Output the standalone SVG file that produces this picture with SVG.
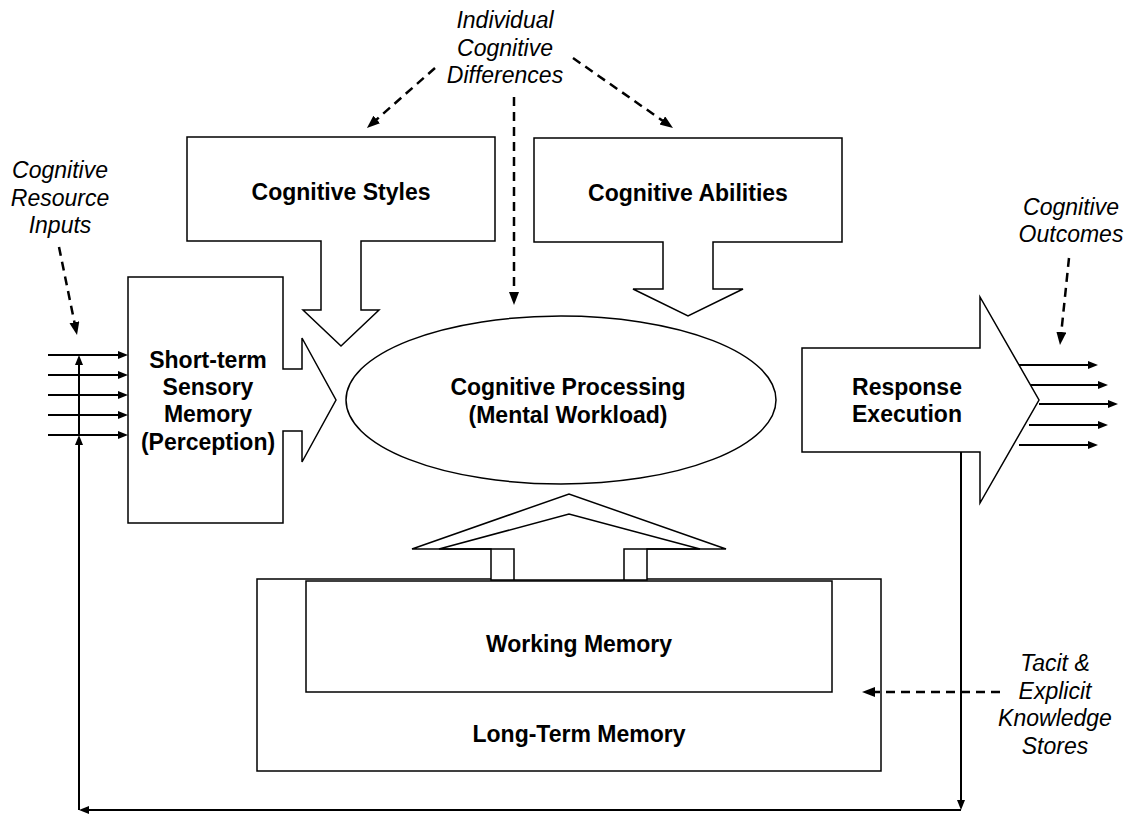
<svg xmlns="http://www.w3.org/2000/svg" width="1125" height="815" viewBox="0 0 1125 815">
  <style>
    .shape { fill: #ffffff; stroke: #000000; stroke-width: 1.5; stroke-linejoin: miter; }
    .outline { fill: none; stroke: #000000; stroke-width: 1.5; }
    .label { font-family: "Liberation Sans", Arial, sans-serif; font-size: 23px; font-weight: bold; fill: #000000; text-anchor: middle; }
    .note { font-family: "Liberation Sans", Arial, sans-serif; font-size: 23px; font-style: italic; fill: #000000; text-anchor: middle; }
    .dash { fill: none; stroke: #000000; stroke-width: 2.5; stroke-dasharray: 9 6; }
    .flow { fill: none; stroke: #000000; stroke-width: 1.8; }
    .feedback { fill: none; stroke: #000000; stroke-width: 2; }
  </style>
  <defs>
    <marker id="dash-head" markerUnits="userSpaceOnUse" markerWidth="14" markerHeight="11" refX="8" refY="5" orient="auto">
      <path d="M0,0 L13,5 L0,10 Z" fill="#000000"/>
    </marker>
    <marker id="flow-head" markerUnits="userSpaceOnUse" markerWidth="11" markerHeight="9" refX="6" refY="4" orient="auto">
      <path d="M0,0 L10,4 L0,8 Z" fill="#000000"/>
    </marker>
  </defs>

  <rect x="0" y="0" width="1125" height="815" fill="#ffffff"/>

  <!-- long-term memory with working memory inside -->
  <g id="long-term-memory">
    <rect class="shape" x="257" y="579" width="624" height="192"/>
    <text class="label" x="579" y="742">Long-Term Memory</text>
  </g>
  <g id="working-memory">
    <rect class="shape" x="306" y="581" width="526" height="111"/>
    <text class="label" x="579" y="652">Working Memory</text>
  </g>

  <!-- hollow upward arrow from memory to processing -->
  <g id="memory-to-processing">
    <path class="shape" d="M491,580 V549 H412 L569,494 L726,549 H647 V580 Z"/>
    <path class="outline" d="M514,580 V549 H439 L569,514 L700,549 H624 V580"/>
  </g>

  <g id="cognitive-styles">
    <path class="shape" d="M187,137 H495 V241 H361 V310 H379 L341,346 L303,310 H321 V241 H187 Z"/>
    <text class="label" x="341" y="200">Cognitive Styles</text>
  </g>

  <g id="cognitive-abilities">
    <path class="shape" d="M534,138 H842 V242 H713 V289 H743 L688,316 L633,289 H663 V242 H534 Z"/>
    <text class="label" x="688" y="201">Cognitive Abilities</text>
  </g>

  <g id="sensory-memory">
    <path class="shape" d="M128,277 H283 V369 H302 V338 L336,400 L302,462 V431 H283 V523 H128 Z"/>
    <text class="label" x="208" y="368">Short-term</text>
    <text class="label" x="208" y="395">Sensory</text>
    <text class="label" x="208" y="422">Memory</text>
    <text class="label" x="208" y="450">(Perception)</text>
  </g>

  <g id="cognitive-processing">
    <ellipse class="shape" cx="561" cy="400" rx="215" ry="84"/>
    <text class="label" x="568" y="395">Cognitive Processing</text>
    <text class="label" x="568" y="423">(Mental Workload)</text>
  </g>

  <g id="response-execution">
    <path class="shape" d="M802,348 H980 V297 L1039,400 L980,503 V452 H802 Z"/>
    <text class="label" x="907" y="395">Response</text>
    <text class="label" x="907" y="422">Execution</text>
  </g>

  <!-- annotations -->
  <g id="individual-differences">
    <text class="note" x="505" y="28">Individual</text>
    <text class="note" x="505" y="55.5">Cognitive</text>
    <text class="note" x="505" y="83">Differences</text>
  </g>
  <g id="resource-inputs">
    <text class="note" x="60" y="178">Cognitive</text>
    <text class="note" x="60" y="205.5">Resource</text>
    <text class="note" x="60" y="233">Inputs</text>
  </g>
  <g id="outcomes">
    <text class="note" x="1071" y="215">Cognitive</text>
    <text class="note" x="1071" y="242">Outcomes</text>
  </g>
  <g id="knowledge-stores">
    <text class="note" x="1055" y="671">Tacit &amp;</text>
    <text class="note" x="1055" y="698.5">Explicit</text>
    <text class="note" x="1055" y="726">Knowledge</text>
    <text class="note" x="1055" y="753.5">Stores</text>
  </g>

  <g id="connectors">
    <!-- dashed influence arrows -->
    <line class="dash" x1="435" y1="68" x2="370.7" y2="124.7" marker-end="url(#dash-head)"/>
    <line class="dash" x1="573" y1="58" x2="668.9" y2="125.1" marker-end="url(#dash-head)"/>
    <line class="dash" x1="514" y1="97" x2="514" y2="300" marker-end="url(#dash-head)"/>
    <line class="dash" x1="59" y1="247" x2="76" y2="330" marker-end="url(#dash-head)"/>
    <line class="dash" x1="1069" y1="258" x2="1060.5" y2="340" marker-end="url(#dash-head)"/>
    <line class="dash" x1="1000" y1="692" x2="867" y2="692" marker-end="url(#dash-head)"/>

    <!-- sensory inputs -->
    <line class="flow" x1="48" y1="355" x2="124" y2="355" marker-end="url(#flow-head)"/>
    <line class="flow" x1="48" y1="375" x2="124" y2="375" marker-end="url(#flow-head)"/>
    <line class="flow" x1="48" y1="395" x2="124" y2="395" marker-end="url(#flow-head)"/>
    <line class="flow" x1="48" y1="415" x2="124" y2="415" marker-end="url(#flow-head)"/>
    <line class="flow" x1="48" y1="435" x2="124" y2="435" marker-end="url(#flow-head)"/>

    <!-- response outputs -->
    <line class="flow" x1="1019" y1="365" x2="1094" y2="365" marker-end="url(#flow-head)"/>
    <line class="flow" x1="1030" y1="385" x2="1104" y2="385" marker-end="url(#flow-head)"/>
    <line class="flow" x1="1039" y1="404" x2="1114" y2="404" marker-end="url(#flow-head)"/>
    <line class="flow" x1="1029" y1="425" x2="1104" y2="425" marker-end="url(#flow-head)"/>
    <line class="flow" x1="1019" y1="445" x2="1094" y2="445" marker-end="url(#flow-head)"/>

    <!-- feedback loop -->
    <line class="feedback" x1="961" y1="452" x2="961" y2="806" marker-end="url(#flow-head)"/>
    <line class="feedback" x1="961" y1="810" x2="83" y2="810" marker-end="url(#flow-head)"/>
    <line class="feedback" x1="79" y1="810" x2="79" y2="439" marker-end="url(#flow-head)"/>
    <line class="feedback" x1="79" y1="435" x2="79" y2="359" marker-end="url(#flow-head)"/>
  </g>
</svg>
